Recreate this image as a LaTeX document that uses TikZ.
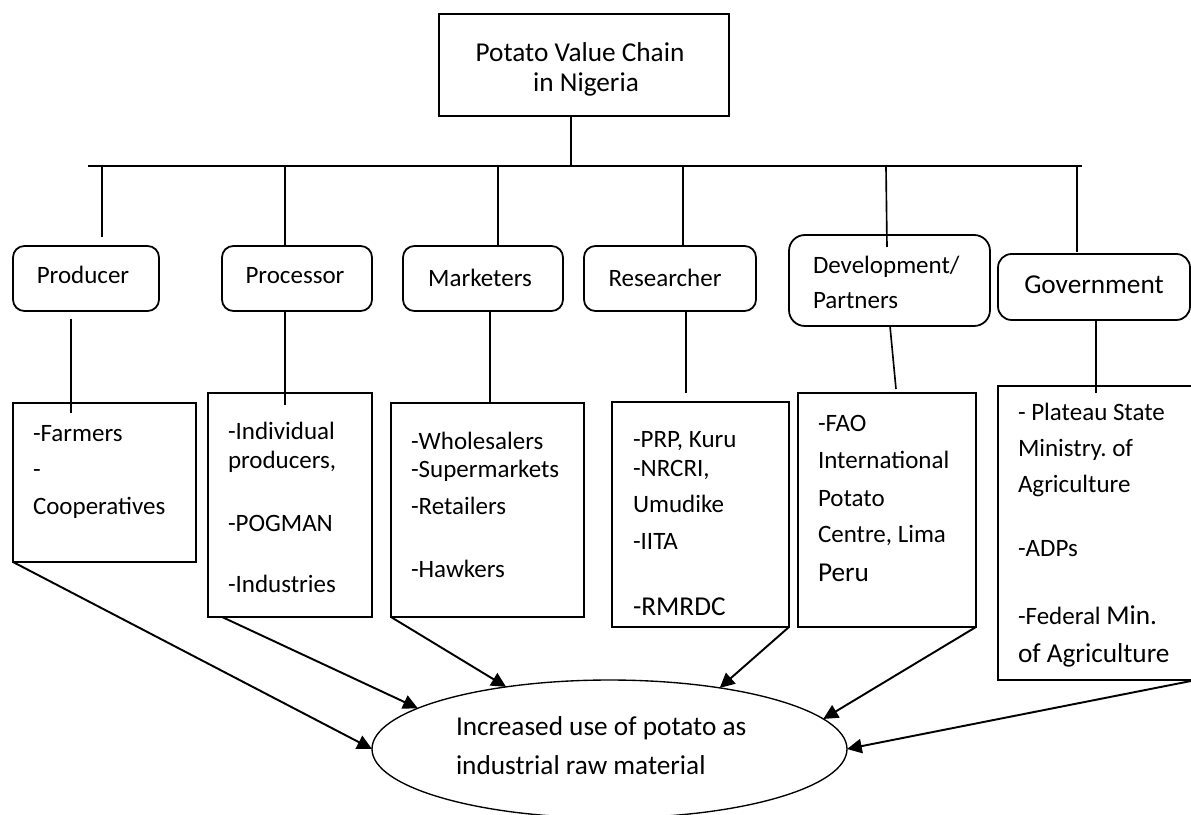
\documentclass[tikz,border=0pt]{standalone}
\usepackage{fontspec}
\setmainfont{Carlito}
\frenchspacing
\usetikzlibrary{fit,shapes.geometric,arrows.meta}
\begin{document}
\begin{tikzpicture}[x=0.44pt,y=-0.44pt,
  frame/.style={draw, line width=0.78pt, inner sep=0pt, outer sep=0pt},
  role/.style={frame, rounded corners=5pt},
  txt/.style={inner sep=0pt, outer sep=0pt, font=\fontsize{11}{13}\selectfont},
  big/.style={txt, font=\fontsize{12}{14}\selectfont},
  link/.style={line width=0.72pt},
  feed/.style={line width=0.85pt, -{Triangle[length=6.5pt,width=6.3pt]}}
]
\useasboundingbox (0,0) rectangle (1191,815);
\clip (0,0) rectangle (1191,815);

% title box
\node[frame, fit={(439,14) (729,116)}] (title) {};
\node[big, anchor=base] (titleA) at (580,62) {Potato Value Chain};
\node[big, anchor=base] (titleB) at (586,92) {in Nigeria};

% distribution bar
\coordinate (hub) at (571,166);
\coordinate (barL) at (88,166);
\coordinate (barR) at (1082,166);
\draw[link] (hub |- title.south) -- (hub);
\draw[link] (barL) -- (barR);

% actor boxes
\node[role, fit={(13,246) (159,311)}] (prod) {};
\node[role, fit={(222,246) (372,311)}] (proc) {};
\node[role, fit={(403,246) (563,311)}] (mark) {};
\node[role, fit={(584,246) (756,311)}] (res) {};
\node[role, rounded corners=7pt, fit={(789,235) (990,326)}] (dev) {};
\node[role, rounded corners=6pt, fit={(998,254) (1190,320)}] (gov) {};

\node[txt, anchor=base] (prodT) at (83,284) {Producer};
\node[txt, anchor=base] (procT) at (295,284) {Processor};
\node[txt, anchor=base] (markT) at (480,287) {Marketers};
\node[txt, anchor=base] (resT) at (665,287) {Researcher};
\node[txt, anchor=base west] (devT1) at (813,274) {Development/};
\node[txt, anchor=base west] (devT2) at (813,309) {Partners};
\node[big, anchor=base] (govT) at (1094,294) {Government};

% drops from the bar to the actor boxes
\foreach \n/\a/\b/\c/\d in {P/102/166/102/237, Q/285/166/285/246, M/498/166/498/246,
    R/683/166/683/246, D/886/166/887/247, G/1077/166/1077/252}{
  \coordinate (top\n) at (\a,\b);
  \coordinate (end\n) at (\c,\d);
  \draw[link] (top\n) -- (end\n);
}

% member boxes
\node[frame, fit={(13,403) (196,562)}] (farm) {};
\node[frame, fit={(208,393) (372,617)}] (procc) {};
\node[frame, fit={(391,403) (584,617)}] (markc) {};
\node[frame, fit={(612,402) (789,627)}] (resc) {};
\node[frame, fit={(798,393) (976,627)}] (devc) {};
\node[frame, fit={(998,386) (1196,680)}] (govc) {};

% links from actors to their members
\foreach \n/\a/\b/\c/\d in {P/71/319/71/413, Q/285/311/285/405, M/490/311/490/403,
    R/686/311/686/393, D/890/326/896/389, G/1096/320/1096/393}{
  \coordinate (src\n) at (\a,\b);
  \coordinate (dst\n) at (\c,\d);
  \draw[link] (src\n) -- (dst\n);
}

% member lists
\foreach \y/\t in {442/-Farmers, 478/-, 515/Cooperatives}
  \node[txt, anchor=base west] (farm-\y) at (33,\y) {\t};
\foreach \y/\t in {440/-Individual, 469/{producers,}, 532/-POGMAN, 593/-Industries}
  \node[txt, anchor=base west] (procc-\y) at (228,\y) {\t};
\foreach \y/\t in {450/-Wholesalers, 478/-Supermarkets, 515/-Retailers, 578/-Hawkers}
  \node[txt, anchor=base west] (markc-\y) at (411,\y) {\t};
\foreach \y/\t in {448/{-PRP, Kuru}, 477/{-NRCRI,}, 513/Umudike, 550/-IITA}
  \node[txt, anchor=base west] (resc-\y) at (633,\y) {\t};
\node[big, anchor=base west] (resc-616) at (633,616) {-RMRDC};
\foreach \y/\t in {432/-FAO, 469/International, 507/Potato, 543/{Centre, Lima}}
  \node[txt, anchor=base west] (devc-\y) at (818,\y) {\t};
\node[big, anchor=base west] (devc-582) at (818,582) {Peru};
\foreach \y/\t in {421/- Plateau State, 457/Ministry. of, 493/Agriculture, 557/-ADPs}
  \node[txt, anchor=base west] (govc-\y) at (1018,\y) {\t};
\node[txt, anchor=base west] (govc-625) at (1018,625) {-Federal {\fontsize{12}{14}\selectfont Min.}};
\node[big, anchor=base west] (govc-663) at (1018,663) {of Agriculture};

% outcome
\node[draw, ellipse, line width=0.6pt, inner sep=0pt, outer sep=0pt,
      minimum width=209pt, minimum height=60.7pt] (goal) at (609.5,749) {};
\node[big, anchor=base west] (goalA) at (456,736) {Increased use of potato as};
\node[big, anchor=base west] (goalB) at (456,775) {industrial raw material};

% contributions to the outcome
\draw[feed] (farm.south west) -- (goal.west);
\draw[feed] ([xshift=6.2pt]procc.south west) -- (goal.168.5);
\draw[feed] (markc.south west) -- (goal.149);
\draw[feed] (resc.south east) -- (goal.29);
\draw[feed] (devc.south east) -- (goal.8.6);
\draw[feed] (govc.south east) -- (goal.east);
\end{tikzpicture}
\end{document}
